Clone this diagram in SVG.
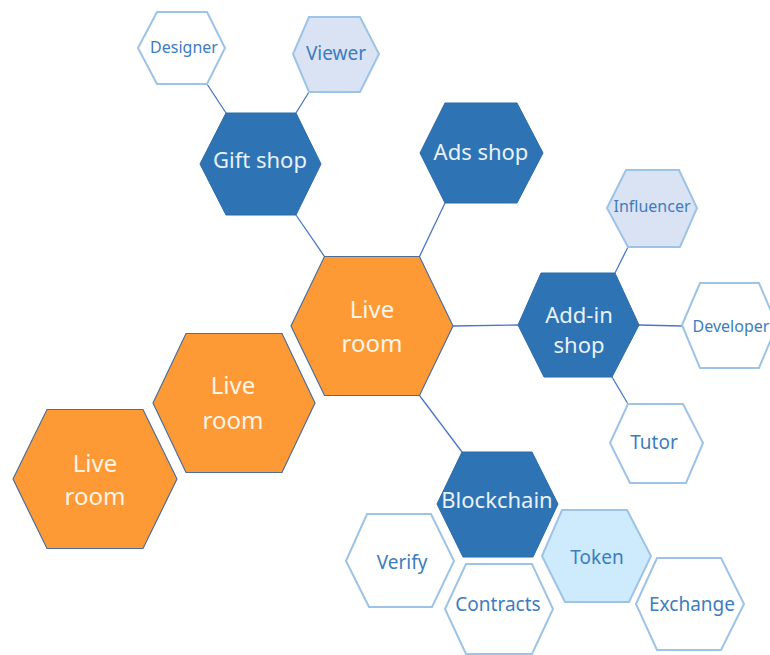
<svg xmlns="http://www.w3.org/2000/svg" width="770" height="655" viewBox="0 0 770 655">
<style>
.live{fill:#FD9A35;stroke:#4E6E9A;stroke-width:1.2}
.dark{fill:#2E74B5;stroke:#2A6AA8;stroke-width:1}
.lite{fill:#FFFFFF;stroke:#9DC3E6;stroke-width:2}
.pale{fill:#DAE3F3;stroke:#9DC3E6;stroke-width:2}
.tok{fill:#CDEBFD;stroke:#9DC3E6;stroke-width:2}
text{font-family:"Noto Sans","Open Sans",sans-serif;text-anchor:middle}
.tw{fill:#FFF4E8;font-size:24px}
.td{fill:#EAF1FA;font-size:22px}
.tl{fill:#3D7CC0}
.conn line{stroke:#4A76C8;stroke-width:1.3}
</style>
<rect width="770" height="655" fill="#FFFFFF"/>
<g id="connectors" class="conn">
<line x1="207" y1="84" x2="226" y2="113"/>
<line x1="309" y1="92" x2="296" y2="113"/>
<line x1="296" y1="215" x2="324.5" y2="256.5"/>
<line x1="445" y1="203" x2="419.5" y2="256.5"/>
<line x1="453" y1="326" x2="518" y2="325"/>
<line x1="628" y1="247" x2="615" y2="273"/>
<line x1="639" y1="325" x2="682" y2="326"/>
<line x1="612" y1="377" x2="628" y2="404"/>
<line x1="419.5" y1="395.5" x2="462" y2="452"/>
</g>
<g id="live1"><polygon class="live" points="324.5,256.5 419.5,256.5 453,326 419.5,395.5 324.5,395.5 291,326"/><text class="tw" x="372" y="318">Live</text><text class="tw" x="372" y="352">room</text></g>
<g id="live2"><polygon class="live" points="186,333.5 282,333.5 315,403 282,472.5 186,472.5 153,403"/><text class="tw" x="233" y="394">Live</text><text class="tw" x="233" y="429">room</text></g>
<g id="live3"><polygon class="live" points="47,409.5 143,409.5 177,479 143,548.5 47,548.5 13,479"/><text class="tw" x="95" y="472">Live</text><text class="tw" x="95" y="505">room</text></g>
<g id="giftshop"><polygon class="dark" points="226,113 296,113 321,164 296,215 226,215 200,164"/><text class="td" x="260" y="168">Gift shop</text></g>
<g id="adsshop"><polygon class="dark" points="445,103 517,103 543,153 517,203 445,203 420,153"/><text class="td" x="481" y="160">Ads shop</text></g>
<g id="addinshop"><polygon class="dark" points="541,273 615,273 639,325 612,377 544,377 518,325"/><text class="td" x="579" y="323">Add-in</text><text class="td" x="579" y="353">shop</text></g>
<g id="blockchain"><polygon class="dark" points="462,452 532,452 558,504 533,557 463,557 437,504"/><text class="td" x="497" y="508">Blockchain</text></g>
<g id="designer"><polygon class="lite" points="157,12 207,12 225,48 207,84 157,84 138,48"/><text class="tl" x="184" y="53" font-size="16">Designer</text></g>
<g id="viewer"><polygon class="pale" points="309,17 360,17 379,54 360,92 309,92 293,54"/><text class="tl" x="336" y="60" font-size="19">Viewer</text></g>
<g id="influencer"><polygon class="pale" points="626,170 679,170 697,208 680,247 628,247 607,208"/><text class="tl" x="652" y="212" font-size="16">Influencer</text></g>
<g id="developer"><polygon class="lite" points="700,283 759,283 777,325 759,368 700,368 682,325"/><text class="tl" x="731" y="332" font-size="16">Developer</text></g>
<g id="tutor"><polygon class="lite" points="628,404 683,404 703,443 686,483 630,483 610,443"/><text class="tl" x="654" y="449" font-size="19">Tutor</text></g>
<g id="verify"><polygon class="lite" points="367,514 431,514 454,561 432,607 369,607 346,561"/><text class="tl" x="402" y="569" font-size="19">Verify</text></g>
<g id="contracts"><polygon class="lite" points="466,564 532,564 553,609 532,654 466,654 445,609"/><text class="tl" x="498" y="611" font-size="19">Contracts</text></g>
<g id="token"><polygon class="tok" points="562,510 627,510 651,556 629,602 565,602 542,556"/><text class="tl" x="597" y="564" font-size="19">Token</text></g>
<g id="exchange"><polygon class="lite" points="657,558 721,558 744,604 721,650 657,650 636,604"/><text class="tl" x="692" y="611" font-size="19">Exchange</text></g>
</svg>
